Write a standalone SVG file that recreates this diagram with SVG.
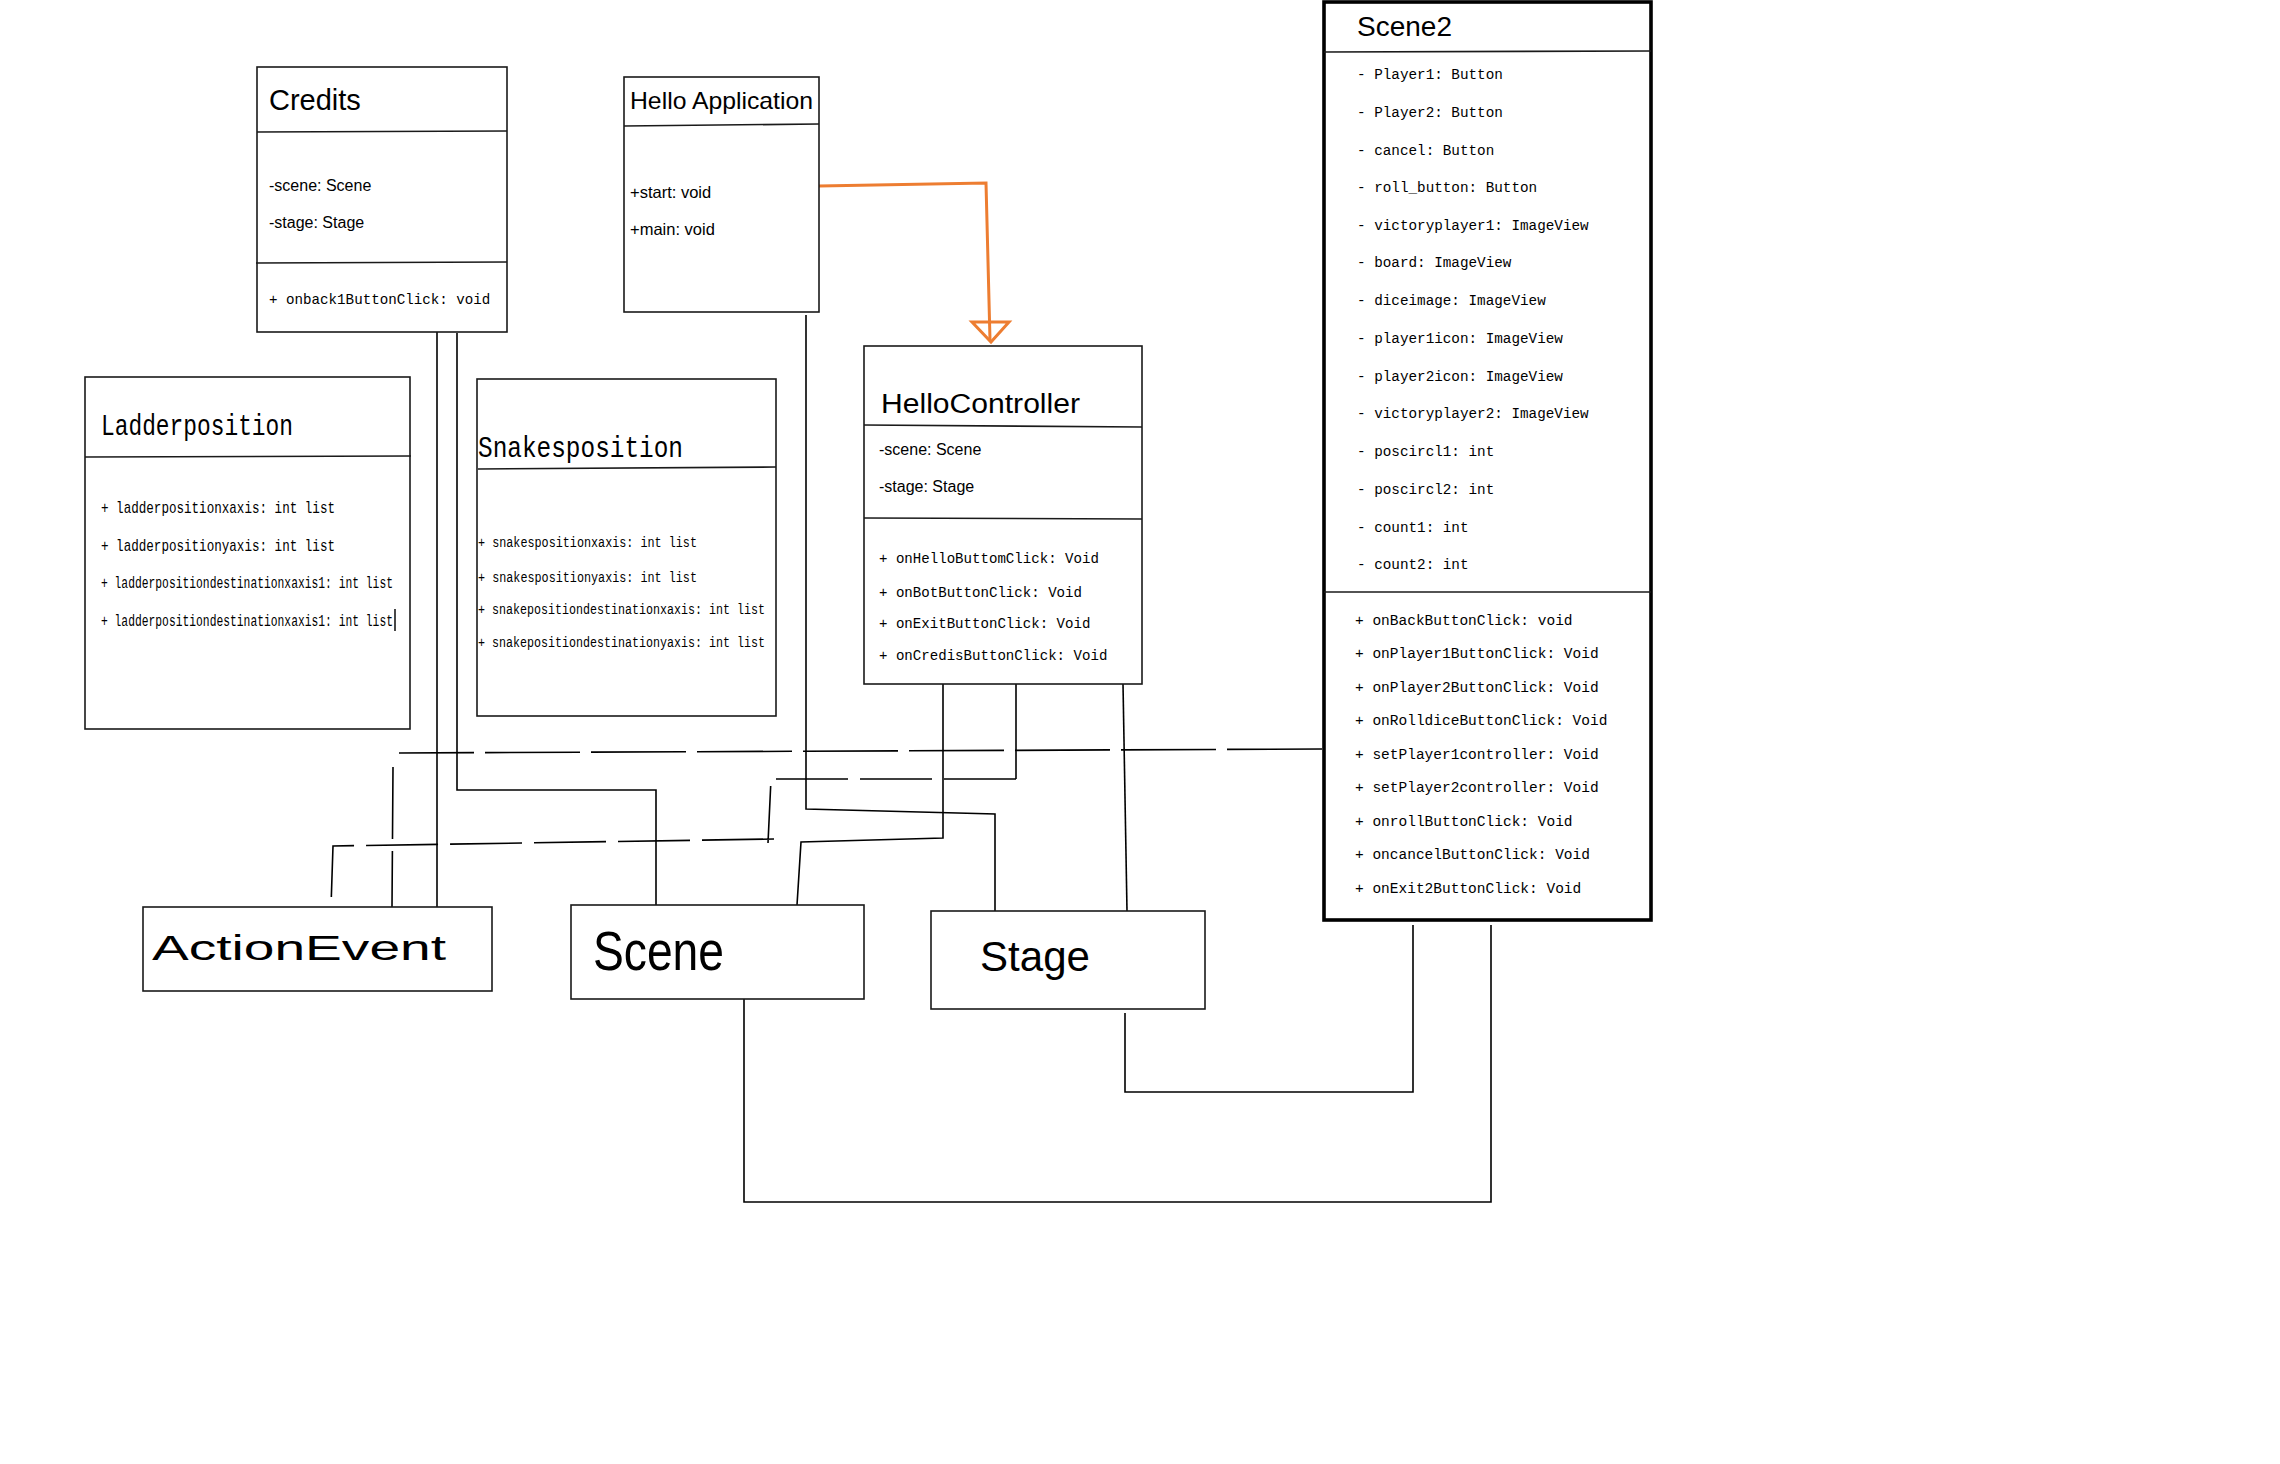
<svg xmlns="http://www.w3.org/2000/svg" width="2280" height="1464" viewBox="0 0 2280 1464">
<style>
  .box{fill:#fff;stroke:#1a1a1a;stroke-width:1.6}
  .thick{fill:#fff;stroke:#000;stroke-width:3.6}
  .div{stroke:#1a1a1a;stroke-width:1.6;fill:none}
  .sans{font-family:"Liberation Sans","Open Sans",sans-serif;fill:#000}
  .mono{font-family:"Liberation Mono","DejaVu Sans Mono",monospace;fill:#000}
  .con{fill:none;stroke:#000;stroke-width:1.6}
  .dashA{fill:none;stroke:#000;stroke-width:1.6;stroke-dasharray:95 11}
  .dashB{fill:none;stroke:#000;stroke-width:1.6;stroke-dasharray:72 12}
  .orange{fill:none;stroke:#ED7D31;stroke-width:3}
</style>
<rect x="0" y="0" width="2280" height="1464" fill="#fff"/>

<g id="connectors">
  <!-- inheritance HelloApplication -> HelloController -->
  <polyline class="orange" points="819,186 986,183 990,340"/>
  <polygon class="orange" points="972,322 1009,322 991,342"/>
  <!-- Credits -> ActionEvent -->
  <path class="con" d="M437 332 V907"/>
  <!-- Credits -> Scene -->
  <path class="con" d="M457 333 V790 H656 V905"/>
  <!-- HelloApplication -> Stage -->
  <path class="con" d="M806 315 V809 L995 814 V911"/>
  <!-- HelloController -> Scene -->
  <path class="con" d="M943 684 V838 L801 842 L797 905"/>
  <!-- HelloController -> ActionEvent (dashed) -->
  <path class="con" d="M1016 684 V779"/>
  <path class="dashB" d="M1016 779 H771 L768 843 M774 839 L333 846 L331 907"/>
  <!-- HelloController -> Stage -->
  <path class="con" d="M1123 684 L1127 911"/>
  <!-- Scene2 -> ActionEvent (dashed) -->
  <path class="dashA" d="M1322 749 L399 753"/>
  <path class="dashB" d="M393 767 L392 907"/>
  <!-- Scene -> Scene2 -->
  <path class="con" d="M744 999 V1202 H1491 V925"/>
  <!-- Stage -> Scene2 -->
  <path class="con" d="M1125 1013 V1092 H1413 V925"/>
</g>

<g id="Credits">
  <rect class="box" x="257" y="67" width="250" height="265"/>
  <line class="div" x1="257" y1="132" x2="507" y2="131"/>
  <line class="div" x1="256" y1="263" x2="507" y2="262"/>
  <text class="sans" x="269" y="110" font-size="29">Credits</text>
  <text class="sans" x="269" y="191" font-size="16">-scene: Scene</text>
  <text class="sans" x="269" y="228" font-size="16">-stage: Stage</text>
  <text class="mono" x="269" y="304" font-size="14.2">+ onback1ButtonClick: void</text>
</g>

<g id="HelloApplication">
  <rect class="box" x="624" y="77" width="195" height="235"/>
  <line class="div" x1="624" y1="126" x2="819" y2="124"/>
  <text class="sans" x="630" y="109" font-size="24" textLength="183" lengthAdjust="spacingAndGlyphs">Hello Application</text>
  <text class="sans" x="630" y="198" font-size="16.5">+start: void</text>
  <text class="sans" x="630" y="235" font-size="16.5">+main: void</text>
</g>

<g id="Ladderposition">
  <rect class="box" x="85" y="377" width="325" height="352"/>
  <line class="div" x1="85" y1="457" x2="411" y2="456"/>
  <text class="mono" x="101" y="435" font-size="29" textLength="192" lengthAdjust="spacingAndGlyphs">Ladderposition</text>
  <text class="mono" x="101" y="513" font-size="17" textLength="234" lengthAdjust="spacingAndGlyphs">+ ladderpositionxaxis: int list</text>
  <text class="mono" x="101" y="551" font-size="17" textLength="234" lengthAdjust="spacingAndGlyphs">+ ladderpositionyaxis: int list</text>
  <text class="mono" x="101" y="588" font-size="16" textLength="292" lengthAdjust="spacingAndGlyphs">+ ladderpositiondestinationxaxis1: int list</text>
  <text class="mono" x="101" y="626" font-size="16" textLength="292" lengthAdjust="spacingAndGlyphs">+ ladderpositiondestinationxaxis1: int list</text>
  <line class="div" x1="395" y1="609" x2="395" y2="631" stroke-width="1.2"/>
</g>

<g id="Snakesposition">
  <rect class="box" x="477" y="379" width="299" height="337"/>
  <line class="div" x1="478" y1="469" x2="776" y2="467"/>
  <text class="mono" x="478" y="457" font-size="29" textLength="205" lengthAdjust="spacingAndGlyphs">Snakesposition</text>
  <text class="mono" x="478" y="547" font-size="14.5" textLength="219" lengthAdjust="spacingAndGlyphs">+ snakespositionxaxis: int list</text>
  <text class="mono" x="478" y="582" font-size="14.5" textLength="219" lengthAdjust="spacingAndGlyphs">+ snakespositionyaxis: int list</text>
  <text class="mono" x="478" y="614" font-size="14.5" textLength="287" lengthAdjust="spacingAndGlyphs">+ snakepositiondestinationxaxis: int list</text>
  <text class="mono" x="478" y="647" font-size="14.5" textLength="287" lengthAdjust="spacingAndGlyphs">+ snakepositiondestinationyaxis: int list</text>
</g>

<g id="HelloController">
  <rect class="box" x="864" y="346" width="278" height="338"/>
  <line class="div" x1="864" y1="425" x2="1142" y2="427"/>
  <line class="div" x1="864" y1="518" x2="1142" y2="519"/>
  <text class="sans" x="881" y="413" font-size="27" textLength="199" lengthAdjust="spacingAndGlyphs">HelloController</text>
  <text class="sans" x="879" y="455" font-size="16">-scene: Scene</text>
  <text class="sans" x="879" y="492" font-size="16">-stage: Stage</text>
  <text class="mono" x="879" y="563" font-size="14.1">+ onHelloButtomClick: Void</text>
  <text class="mono" x="879" y="597" font-size="14.1">+ onBotButtonClick: Void</text>
  <text class="mono" x="879" y="628" font-size="14.1">+ onExitButtonClick: Void</text>
  <text class="mono" x="879" y="660" font-size="14.1">+ onCredisButtonClick: Void</text>
</g>

<g id="Scene2">
  <rect class="thick" x="1324" y="2" width="327" height="918"/>
  <line class="div" x1="1324" y1="52" x2="1651" y2="51"/>
  <line class="div" x1="1324" y1="592" x2="1651" y2="592"/>
  <text class="sans" x="1357" y="36" font-size="28">Scene2</text>
  <g class="mono" font-size="14.3">
    <text x="1357" y="79">- Player1: Button</text>
    <text x="1357" y="117">- Player2: Button</text>
    <text x="1357" y="155">- cancel: Button</text>
    <text x="1357" y="192">- roll_button: Button</text>
    <text x="1357" y="230">- victoryplayer1: ImageView</text>
    <text x="1357" y="267">- board: ImageView</text>
    <text x="1357" y="305">- diceimage: ImageView</text>
    <text x="1357" y="343">- player1icon: ImageView</text>
    <text x="1357" y="381">- player2icon: ImageView</text>
    <text x="1357" y="418">- victoryplayer2: ImageView</text>
    <text x="1357" y="456">- poscircl1: int</text>
    <text x="1357" y="494">- poscircl2: int</text>
    <text x="1357" y="532">- count1: int</text>
    <text x="1357" y="569">- count2: int</text>
  </g>
  <g class="mono" font-size="14.5">
    <text x="1355" y="625">+ onBackButtonClick: void</text>
    <text x="1355" y="658">+ onPlayer1ButtonClick: Void</text>
    <text x="1355" y="692">+ onPlayer2ButtonClick: Void</text>
    <text x="1355" y="725">+ onRolldiceButtonClick: Void</text>
    <text x="1355" y="759">+ setPlayer1controller: Void</text>
    <text x="1355" y="792">+ setPlayer2controller: Void</text>
    <text x="1355" y="826">+ onrollButtonClick: Void</text>
    <text x="1355" y="859">+ oncancelButtonClick: Void</text>
    <text x="1355" y="893">+ onExit2ButtonClick: Void</text>
  </g>
</g>

<g id="ActionEvent">
  <rect class="box" x="143" y="907" width="349" height="84"/>
  <text class="sans" x="152" y="960" font-size="35" textLength="294" lengthAdjust="spacingAndGlyphs">ActionEvent</text>
</g>

<g id="Scene">
  <rect class="box" x="571" y="905" width="293" height="94"/>
  <text class="sans" x="593" y="970" font-size="56" textLength="131" lengthAdjust="spacingAndGlyphs">Scene</text>
</g>

<g id="Stage">
  <rect class="box" x="931" y="911" width="274" height="98"/>
  <text class="sans" x="980" y="971" font-size="43" textLength="110" lengthAdjust="spacingAndGlyphs">Stage</text>
</g>
</svg>
